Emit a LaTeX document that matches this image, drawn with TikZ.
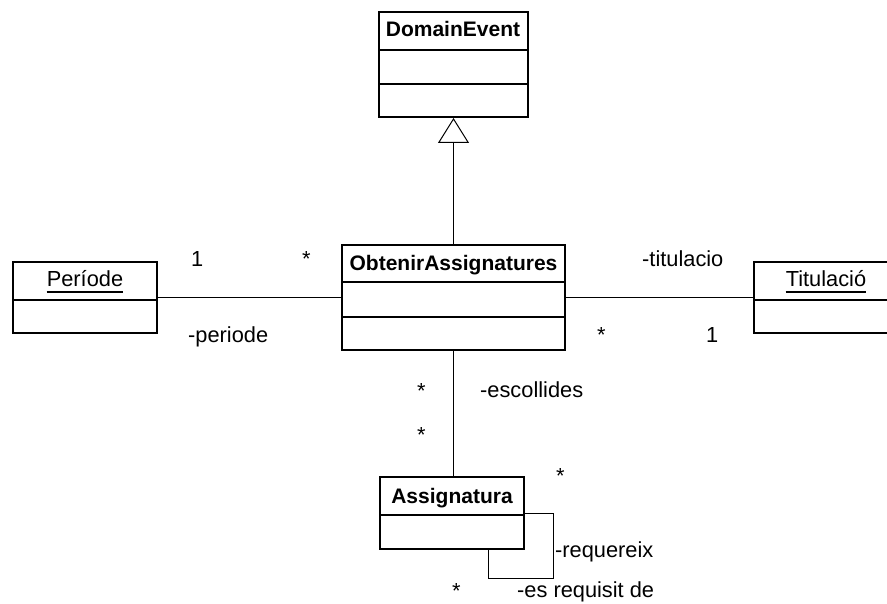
\documentclass[tikz,border=0pt]{standalone}
\usepackage{fontspec}
\setmainfont{Liberation Sans}
\usetikzlibrary{arrows.meta}
\begin{document}
\begin{tikzpicture}[x=1pt,y=-1pt,
  classbox/.style={draw, line width=2pt, inner sep=0pt, minimum width=#1},
  sep/.style={line width=2pt},
  assoc/.style={line width=1pt},
  gen/.style={line width=1pt, -{Triangle[open, length=25pt, width=31pt, line width=1pt]}},
  title/.style={inner sep=0pt, anchor=base, font=\fontsize{21}{25}\selectfont\bfseries},
  objtitle/.style={inner sep=0pt, anchor=base, font=\fontsize{21.8}{25}\selectfont},
  lbl/.style={inner sep=0pt, anchor=base west, font=\fontsize{21.8}{25}\selectfont},
  uline/.style={line width=1.5pt}]
\useasboundingbox (0,0) rectangle (887,604);

% class boxes
\node[classbox=149pt, minimum height=105pt] (de) at (453.5,64.5) {};
\node[classbox=223pt, minimum height=105pt] (oa) at (453.5,297.5) {};
\node[classbox=144pt, minimum height=71pt] (pe) at (85,297.5) {};
\node[classbox=144pt, minimum height=71pt] (ti) at (826,297.5) {};
\node[classbox=144pt, minimum height=72pt] (as) at (452,513) {};

% compartments
\draw[sep] ([yshift=-39pt]de.north west) -- ([yshift=-39pt]de.north east);
\draw[sep] ([yshift=-73pt]de.north west) -- ([yshift=-73pt]de.north east);
\draw[sep] ([yshift=-38pt]oa.north west) -- ([yshift=-38pt]oa.north east);
\draw[sep] ([yshift=-73pt]oa.north west) -- ([yshift=-73pt]oa.north east);
\draw[sep] ([yshift=-39pt]pe.north west) -- ([yshift=-39pt]pe.north east);
\draw[sep] ([yshift=-39pt]ti.north west) -- ([yshift=-39pt]ti.north east);
\draw[sep] ([yshift=-39pt]as.north west) -- ([yshift=-39pt]as.north east);

% class names
\node[title] (den) at (453,37) {DomainEvent};
\node[title] (oan) at (453.5,271) {ObtenirAssignatures};
\node[title] (asn) at (452,503) {Assignatura};
\node[objtitle] (pen) at (85,287) {Període};
\node[objtitle] (tin) at (826,287) {Titulació};
\draw[uline] ([yshift=-5pt]pen.base west) -- ([yshift=-5pt]pen.base east);
\draw[uline] ([yshift=-5pt]tin.base west) -- ([yshift=-5pt]tin.base east);

% generalization
\draw[gen] (oa.north) -- (oa.north |- de.south);

% associations
\draw[assoc] (pe.east) -- (oa.west);
\draw[assoc] (oa.east) -- (ti.west);
\draw[assoc] (453,350) -- (453,477);
\draw[assoc] (as.east) -- ++(28,0) -- ++(0,65) -| ([xshift=36pt]as.south);

% role names and multiplicities
\node[lbl] (m1) at (191,267) {1};
\node[lbl] (m2) at (302,267) {*};
\node[lbl] (r1) at (188,342) {-periode};
\node[lbl] (r2) at (642,267) {-titulacio};
\node[lbl] (m3) at (597,342) {*};
\node[lbl] (m4) at (706,342) {1};
\node[lbl] (m5) at (417,398) {*};
\node[lbl] (r3) at (480,397) {-escollides};
\node[lbl] (m6) at (417,442) {*};
\node[lbl] (m7) at (556,483) {*};
\node[lbl] (r4) at (555,557) {-requereix};
\node[lbl] (m8) at (452,598) {*};
\node[lbl] (r5) at (517,597) {-es requisit de};
\end{tikzpicture}
\end{document}
